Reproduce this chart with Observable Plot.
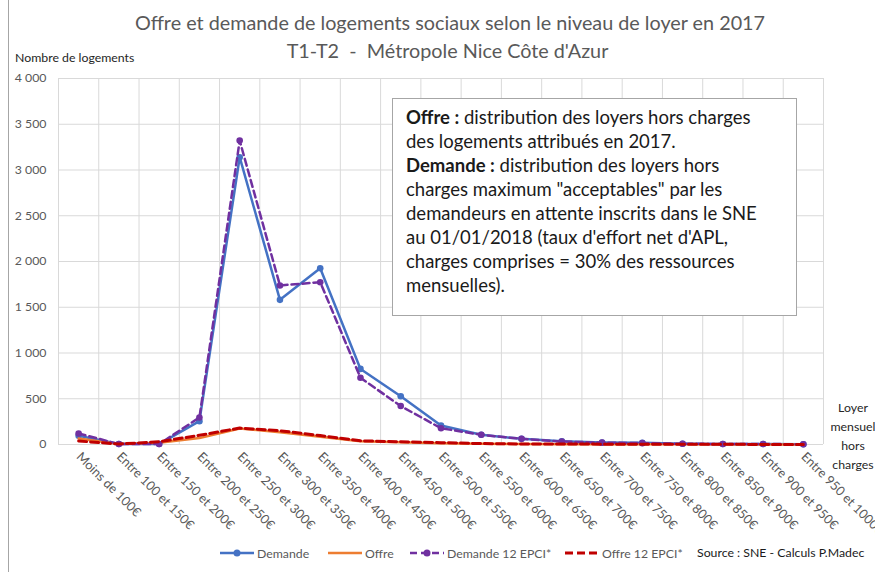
<!DOCTYPE html>
<html><head><meta charset="utf-8">
<script src="https://cdn.jsdelivr.net/npm/d3@7"></script>
<script src="https://cdn.jsdelivr.net/npm/@observablehq/plot@0.6"></script>
<style>
body{margin:0;background:#fff;}
#wrap{position:relative;width:875px;height:572px;overflow:hidden;font-family:Lato,"Open Sans",sans-serif;background:#fff;}
#chart{position:absolute;left:0;top:0;}
.abs{position:absolute;white-space:nowrap;}
#frame{position:absolute;left:8px;top:0;width:1px;height:572px;background:#a6a6a6;}
#title{left:0;width:900px;text-align:center;top:10px;font-size:19.8px;line-height:24px;color:#595959;}
#subtitle{left:0;width:895px;text-align:center;top:38px;font-size:19.8px;line-height:24px;color:#595959;}
#ylab{left:15px;top:50px;font-size:12.3px;color:#262626;}
#box{position:absolute;left:392px;top:98px;width:405px;height:218px;border:1px solid #a6a6a6;background:#fff;box-sizing:border-box;}
#boxtext{left:406px;top:105px;font-size:18.5px;line-height:24px;color:#1a1a1a;}
#xlab{left:822px;width:62px;text-align:center;top:398px;font-size:12.3px;line-height:19px;color:#262626;}
#legend{left:0;top:545px;font-size:12.3px;color:#595959;}
.li{position:absolute;top:0;display:flex;align-items:center;height:16px;}
#source{left:697px;top:545px;font-size:12.3px;color:#1a1a1a;}
</style></head>
<body><div id="wrap">
<div id="frame"></div>
<div id="chart"></div>
<div class="abs" id="title">Offre et demande de logements sociaux selon le niveau de loyer en 2017</div>
<div class="abs" id="subtitle">T1-T2&nbsp; -&nbsp; Métropole Nice Côte d'Azur</div>
<div class="abs" id="ylab">Nombre de logements</div>
<div id="box"></div>
<div class="abs" id="boxtext"><b>Offre :</b> distribution des loyers hors charges<br>des logements attribués en 2017.<br><b>Demande :</b> distribution des loyers hors<br>charges maximum "acceptables" par les<br>demandeurs en attente inscrits dans le SNE<br>au 01/01/2018 (taux d'effort net d'APL,<br>charges comprises = 30% des ressources<br>mensuelles).</div>
<div class="abs" id="xlab">Loyer<br>mensuel<br>hors<br>charges</div>
<div class="abs" id="legend"></div>
<div class="abs" id="source">Source : SNE - Calculs P.Madec</div>
</div>
<script>
const categories = ["Moins de 100€","Entre 100 et 150€","Entre 150 et 200€","Entre 200 et 250€","Entre 250 et 300€","Entre 300 et 350€","Entre 350 et 400€","Entre 400 et 450€","Entre 450 et 500€","Entre 500 et 550€","Entre 550 et 600€","Entre 600 et 650€","Entre 650 et 700€","Entre 700 et 750€","Entre 750 et 800€","Entre 800 et 850€","Entre 850 et 900€","Entre 900 et 950€","Entre 950 et 1000€"];
const demande   = [95, 5, 5, 255, 3140, 1581, 1927, 826, 528, 208, 106, 62, 35, 22, 18, 8, 6, 5, 3];
const offre     = [65, 5, 20, 70, 175, 135, 85, 36, 25, 15, 8, 5, 4, 3, 2, 2, 1, 1, 1];
const demande12 = [120, 5, 5, 295, 3322, 1738, 1774, 729, 420, 178, 106, 62, 33, 20, 15, 8, 6, 5, 3];
const offre12   = [38, 5, 30, 100, 180, 150, 98, 40, 30, 20, 10, 6, 5, 4, 3, 2, 2, 1, 1];
const yTicks = [0, 500, 1000, 1500, 2000, 2500, 3000, 3500, 4000];

const seriesNames = ["Demande","Offre","Demande 12 EPCI*","Offre 12 EPCI*"];
const seriesValues = [demande, offre, demande12, offre12];
const colors = {"Demande":"#4472C4","Offre":"#ED7D31","Demande 12 EPCI*":"#7030A0","Offre 12 EPCI*":"#C00000"};
const rows = seriesNames.flatMap((s, k) => seriesValues[k].map((v, i) => ({series: s, i, value: v})));
const sel = s => rows.filter(d => d.series === s);

const fr = d3.formatLocale({decimal: ",", thousands: "\u00a0", grouping: [3], currency: ["", "€"]});
const fmt = fr.format(",d");

const bounds = d3.range(categories.length + 1).map(i => i - 0.5);

const chart = Plot.plot({
  width: 875, height: 572,
  marginLeft: 58, marginRight: 52, marginTop: 78, marginBottom: 128,
  style: {fontFamily: "Lato, 'Open Sans', sans-serif", fontSize: "12.3px", color: "#595959", background: "transparent"},
  x: {domain: [-0.5, categories.length - 0.5], axis: null},
  y: {domain: [0, 4000], axis: null},
  marks: [
    Plot.ruleY(yTicks, {stroke: "#d9d9d9", strokeWidth: 1, strokeOpacity: 1}),
    Plot.ruleX(bounds, {y1: 0, y2: 4000, stroke: "#d9d9d9", strokeWidth: 1, strokeOpacity: 1}),
    Plot.axisY({ticks: yTicks, tickFormat: fmt, tickSize: 0, tickPadding: 12, fontSize: 12.3, label: null}),
    Plot.axisX({ticks: d3.range(categories.length), tickFormat: i => categories[i], tickSize: 0, tickPadding: 10, tickRotate: 45, fontSize: 12.8, label: null}),
    Plot.line(sel("Demande"), {x: "i", y: "value", stroke: colors["Demande"], strokeWidth: 2.5}),
    Plot.dot(sel("Demande"), {x: "i", y: "value", r: 3.3, fill: colors["Demande"], stroke: null}),
    Plot.line(sel("Offre"), {x: "i", y: "value", stroke: colors["Offre"], strokeWidth: 2.5}),
    Plot.line(sel("Demande 12 EPCI*"), {x: "i", y: "value", stroke: colors["Demande 12 EPCI*"], strokeWidth: 2.5, strokeDasharray: "7,4"}),
    Plot.dot(sel("Demande 12 EPCI*"), {x: "i", y: "value", r: 3.3, fill: colors["Demande 12 EPCI*"], stroke: null}),
    Plot.line(sel("Offre 12 EPCI*"), {x: "i", y: "value", stroke: colors["Offre 12 EPCI*"], strokeWidth: 3, strokeDasharray: "8,4"})
  ]
});
document.getElementById("chart").appendChild(chart);

// legend
const legendItems = [
  {name: "Demande", x: 220, dash: null, dot: true},
  {name: "Offre", x: 328, dash: null, dot: false},
  {name: "Demande 12 EPCI*", x: 410, dash: "7,4", dot: true},
  {name: "Offre 12 EPCI*", x: 565, dash: "8,4", dot: false}
];
const leg = d3.select("#legend");
for (const it of legendItems) {
  const d = leg.append("div").attr("class", "li").style("left", it.x + "px");
  const svg = d.append("svg").attr("width", 35).attr("height", 16);
  svg.append("line").attr("x1", 0).attr("x2", 34).attr("y1", 8).attr("y2", 8)
    .attr("stroke", colors[it.name]).attr("stroke-width", it.name === "Offre 12 EPCI*" ? 3 : 2.5)
    .attr("stroke-dasharray", it.dash);
  if (it.dot) svg.append("circle").attr("cx", 17).attr("cy", 8).attr("r", 3.5).attr("fill", colors[it.name]);
  d.append("span").style("margin-left", "2px").text(it.name);
}
</script>
</body></html>
